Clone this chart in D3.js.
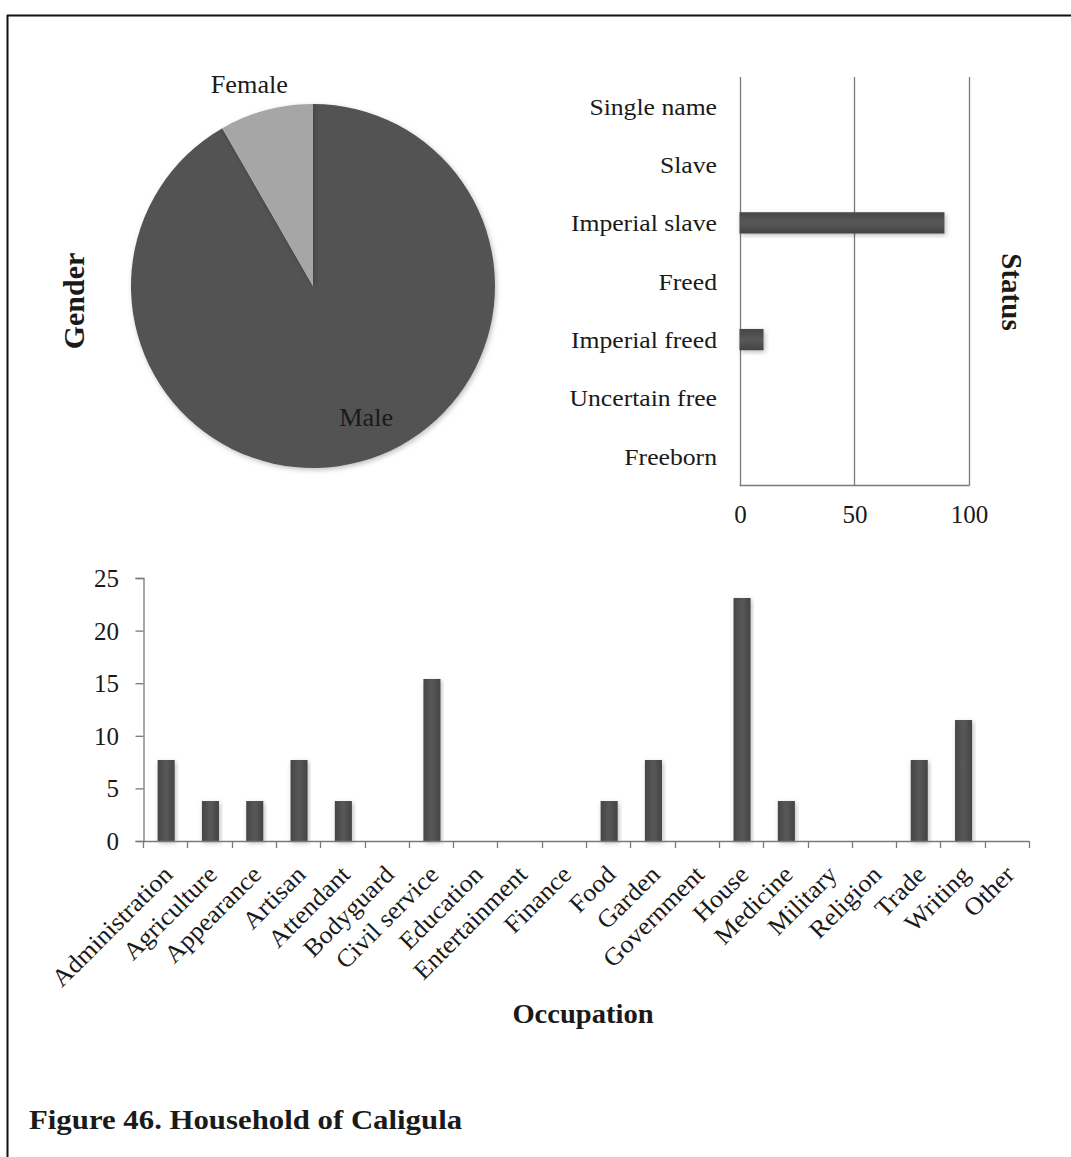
<!DOCTYPE html>
<html>
<head>
<meta charset="utf-8">
<script src="https://cdn.jsdelivr.net/npm/d3@7"></script>
<style>
  html, body { margin: 0; padding: 0; background: #fff; }
  svg { display: block; }
  text { font-family: "Liberation Serif", "Times New Roman", serif; fill: #1a1a1a; }
</style>
</head>
<body>
<svg id="chart" width="1071" height="1157"></svg>
<script>
// ---------- DATA ----------
const genderLabels = ["Male", "Female"];
const genderValues = [91.7, 8.3];

const statusCategories = ["Single name", "Slave", "Imperial slave", "Freed", "Imperial freed", "Uncertain free", "Freeborn"];
const statusValues = [0, 0, 89.5, 0, 10.5, 0, 0];
const statusTicks = [0, 50, 100];

const occupationCategories = ["Administration", "Agriculture", "Appearance", "Artisan", "Attendant", "Bodyguard",
  "Civil service", "Education", "Entertainment", "Finance", "Food", "Garden", "Government", "House",
  "Medicine", "Military", "Religion", "Trade", "Writing", "Other"];
const occupationValues = [7.7, 3.8, 3.8, 7.7, 3.8, 0, 15.4, 0, 0, 0, 3.8, 7.7, 0, 23.1, 3.8, 0, 0, 7.7, 11.5, 0];
const occupationTicks = [0, 5, 10, 15, 20, 25];

const captionText = "Figure 46. Household of Caligula";

// ---------- SETUP ----------
const svg = d3.select("#chart");
const defs = svg.append("defs");
const shadow = defs.append("filter").attr("id", "shadow").attr("x", "-20%").attr("y", "-20%").attr("width", "140%").attr("height", "140%");
shadow.append("feDropShadow").attr("dx", 1.5).attr("dy", 2).attr("stdDeviation", 2.5).attr("flood-color", "#000").attr("flood-opacity", 0.25);

const barGradV = defs.append("linearGradient").attr("id", "barV").attr("x1", 0).attr("x2", 1).attr("y1", 0).attr("y2", 0);
barGradV.append("stop").attr("offset", "0%").attr("stop-color", "#464646");
barGradV.append("stop").attr("offset", "50%").attr("stop-color", "#585858");
barGradV.append("stop").attr("offset", "100%").attr("stop-color", "#444");
const barGradH = defs.append("linearGradient").attr("id", "barH").attr("x1", 0).attr("x2", 0).attr("y1", 0).attr("y2", 1);
barGradH.append("stop").attr("offset", "0%").attr("stop-color", "#464646");
barGradH.append("stop").attr("offset", "50%").attr("stop-color", "#585858");
barGradH.append("stop").attr("offset", "100%").attr("stop-color", "#444");

function label(g, x, y, str, o = {}) {
  const t = g.append("text")
    .attr("transform", `translate(${x},${y}) rotate(${o.rotate || 0}) scale(${o.sx || 1},1)`)
    .attr("text-anchor", o.anchor || "middle")
    .style("font-size", (o.size || 24) + "px")
    .style("font-weight", o.bold ? "bold" : "normal")
    .text(str);
  return t;
}

// Frame
svg.append("line").attr("x1", 7).attr("x2", 1071).attr("y1", 15.5).attr("y2", 15.5).attr("stroke", "#111").attr("stroke-width", 2);
svg.append("line").attr("x1", 7.5).attr("x2", 7.5).attr("y1", 15).attr("y2", 1157).attr("stroke", "#111").attr("stroke-width", 2);

// ---------- PIE (Gender) ----------
const pieCx = 313, pieCy = 286, pieR = 182;
const pieG = svg.append("g").attr("transform", `translate(${pieCx},${pieCy})`);
const pie = d3.pie().sort(null).value(d => d);
const arcs = pie(genderValues);
const arc = d3.arc().innerRadius(0).outerRadius(pieR);
const pieColors = ["#525252", "#a6a6a6"];
pieG.selectAll("path").data(arcs).join("path")
  .attr("d", arc)
  .attr("fill", (d, i) => pieColors[i])
  .attr("filter", "url(#shadow)");
// labels
const labelArcs = [d3.arc().innerRadius(pieR * 0.75).outerRadius(pieR * 0.75), d3.arc().innerRadius(pieR + 26).outerRadius(pieR + 26)];
arcs.forEach((a, i) => {
  const c = labelArcs[i].centroid(a);
  const dx = i === 0 ? 18 : -10;
  label(pieG, c[0] + dx, c[1] + 8, genderLabels[i], { size: 25, sx: 1.05 });
});
label(svg, 84, 301, "Gender", { size: 30, bold: true, rotate: -90 });

// ---------- STATUS (horizontal bars) ----------
const sx = d3.scaleLinear().domain([0, 100]).range([739.5, 968.5]);
const sy = d3.scaleBand().domain(statusCategories).range([77, 485.5]).padding(0);
const statusG = svg.append("g");
// gridlines
statusG.selectAll("line.grid").data(statusTicks).join("line")
  .attr("class", "grid")
  .attr("x1", d => Math.round(sx(d)) + 0.5).attr("x2", d => Math.round(sx(d)) + 0.5)
  .attr("y1", 77).attr("y2", 485.5)
  .attr("stroke", "#7a7a7a").attr("stroke-width", 1.3);
// bottom axis line
statusG.append("line").attr("x1", sx(0)).attr("x2", sx(100) + 1).attr("y1", 485.5).attr("y2", 485.5)
  .attr("stroke", "#7a7a7a").attr("stroke-width", 1.3);
// bars
const sBarH = sy.bandwidth() * 0.365;
statusG.selectAll("rect").data(statusValues.map((v, i) => ({ v, c: statusCategories[i] })).filter(d => d.v > 0)).join("rect")
  .attr("x", sx(0))
  .attr("y", d => sy(d.c) + sy.bandwidth() / 2 - sBarH / 2)
  .attr("width", d => sx(d.v) - sx(0))
  .attr("height", sBarH)
  .attr("fill", "url(#barH)")
  .attr("filter", "url(#shadow)");
// category labels
statusCategories.forEach(c => {
  label(statusG, 717, sy(c) + sy.bandwidth() / 2 + 8.5, c, { size: 24, anchor: "end", sx: 1.07 });
});
// tick labels
statusTicks.forEach(t => {
  label(statusG, sx(t) + 1, 523, String(t), { size: 25, sx: 1.0 });
});
label(svg, 1002, 292, "Status", { size: 29, bold: true, rotate: 90 });

// ---------- OCCUPATION (vertical bars) ----------
const ox = d3.scaleBand().domain(occupationCategories).range([143, 1029]).padding(0);
const oy = d3.scaleLinear().domain([0, 25]).range([841, 578]);
const occG = svg.append("g");
// bars
const oBarW = ox.bandwidth() * 0.385;
occG.selectAll("rect").data(occupationValues.map((v, i) => ({ v, c: occupationCategories[i] })).filter(d => d.v > 0)).join("rect")
  .attr("x", d => ox(d.c) + ox.bandwidth() / 2 - oBarW / 2 + 1)
  .attr("y", d => oy(d.v))
  .attr("width", oBarW)
  .attr("height", d => oy(0) - oy(d.v))
  .attr("fill", "url(#barV)")
  .attr("filter", "url(#shadow)");
// y axis
const yAxis = d3.axisLeft(oy).tickValues(occupationTicks).tickSize(8).tickFormat("");
const yAxisG = occG.append("g").attr("transform", "translate(143.5,0)").call(yAxis);
yAxisG.selectAll("path, line").attr("stroke", "#7a7a7a").attr("stroke-width", 1.3);
occupationTicks.forEach(t => {
  label(occG, 119, oy(t) + 9, String(t), { size: 25, anchor: "end" });
});
// x axis
const boundaries = occupationCategories.map(c => ox(c)).concat([ox.range()[1]]);
occG.append("line").attr("x1", 143).attr("x2", 1029).attr("y1", 841.5).attr("y2", 841.5).attr("stroke", "#7a7a7a").attr("stroke-width", 1.3);
occG.selectAll("line.xt").data(boundaries).join("line").attr("class", "xt")
  .attr("x1", d => Math.round(d) + 0.5).attr("x2", d => Math.round(d) + 0.5)
  .attr("y1", 841).attr("y2", 848)
  .attr("stroke", "#7a7a7a").attr("stroke-width", 1.3);
occupationCategories.forEach(c => {
  const cx = ox(c) + ox.bandwidth() / 2;
  label(occG, cx + 9, 876, c, { size: 25, anchor: "end", rotate: -45, sx: 1.05 });
});
label(svg, 583, 1023, "Occupation", { size: 28, bold: true, sx: 1.02 });

// ---------- CAPTION ----------
label(svg, 29, 1129, captionText, { size: 28, bold: true, anchor: "start", sx: 1.1 });
</script>
</body>
</html>
